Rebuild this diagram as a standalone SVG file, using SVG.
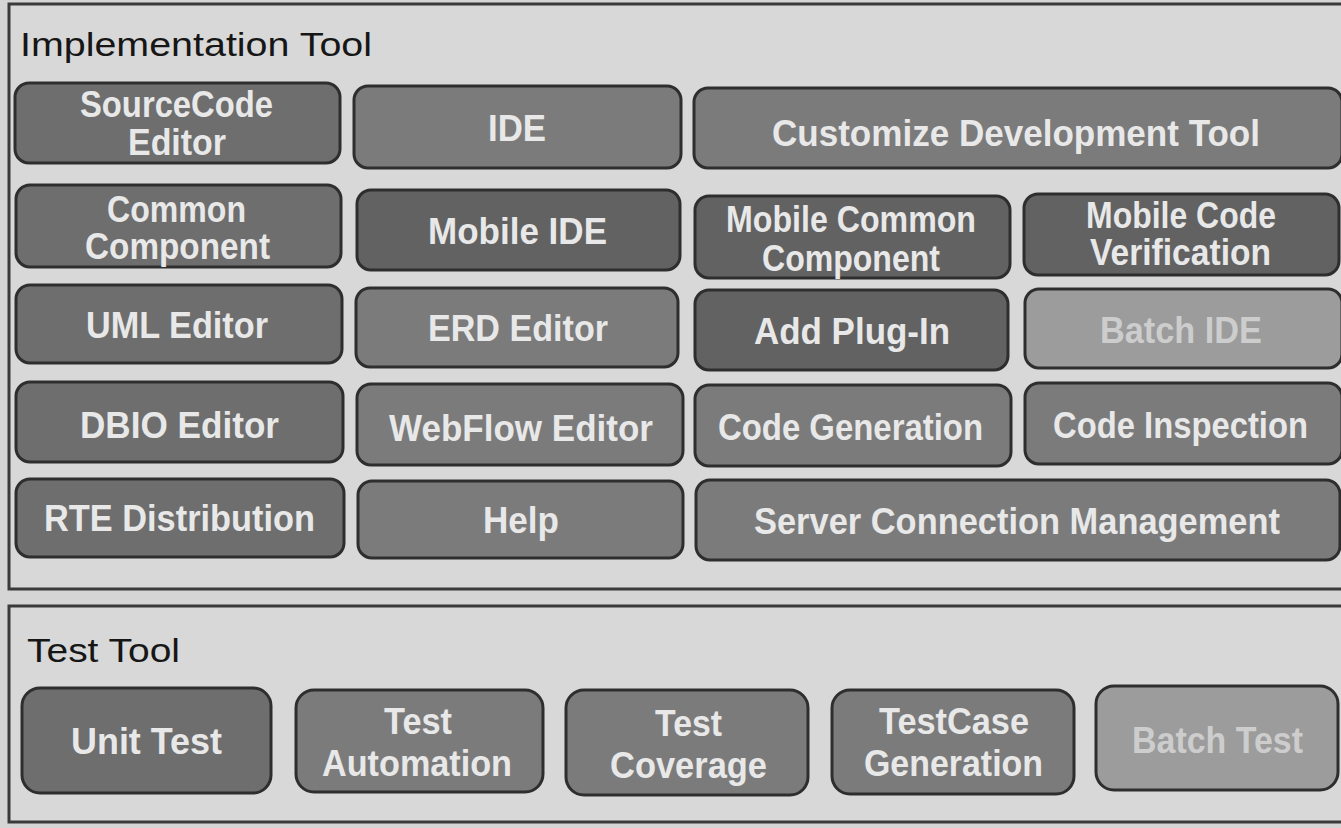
<svg xmlns="http://www.w3.org/2000/svg" width="1341" height="828" viewBox="0 0 1341 828">
<style>
.bg{fill:#d5d5d5}
.panel{fill:#d8d8d8;stroke:#3a3a3a;stroke-width:3}
.box{stroke:#2e2e2e;stroke-width:3}
.d{fill:#626262}
.m{fill:#6e6e6e}
.l{fill:#7b7b7b}
.x{fill:#9c9c9c}
.t{font-family:"Liberation Sans",Arial,sans-serif;font-weight:bold;font-size:36px;fill:#e8e8e8}
.tx{fill:#cdcdcd}
.h{font-family:"Liberation Sans",Arial,sans-serif;font-size:34px;fill:#161616}
</style>
<rect class="bg" x="0" y="0" width="1341" height="828"/>
<rect class="panel" x="9" y="4" width="1345" height="585"/>
<rect class="panel" x="9" y="606" width="1345" height="216"/>
<text class="h" x="20" y="56" textLength="352" lengthAdjust="spacingAndGlyphs">Implementation  Tool</text>
<text class="h" x="27" y="662" textLength="153" lengthAdjust="spacingAndGlyphs">Test Tool</text>

<g id="n-sourcecode"><rect class="box m" x="15" y="83" width="325" height="80" rx="14"/><text class="t" x="80" y="117" textLength="193" lengthAdjust="spacingAndGlyphs">SourceCode</text><text class="t" x="128" y="155" textLength="98" lengthAdjust="spacingAndGlyphs">Editor</text></g>
<g id="n-ide"><rect class="box l" x="354" y="86" width="327" height="82" rx="14"/><text class="t" x="488" y="141" textLength="58" lengthAdjust="spacingAndGlyphs">IDE</text></g>
<g id="n-customize"><rect class="box l" x="694" y="88" width="648" height="80" rx="14"/><text class="t" x="772" y="146" textLength="488" lengthAdjust="spacingAndGlyphs">Customize Development Tool</text></g>

<g id="n-common"><rect class="box m" x="16" y="185" width="325" height="82" rx="14"/><text class="t" x="107" y="222" textLength="139" lengthAdjust="spacingAndGlyphs">Common</text><text class="t" x="85" y="259" textLength="185" lengthAdjust="spacingAndGlyphs">Component</text></g>
<g id="n-mobileide"><rect class="box d" x="357" y="190" width="323" height="80" rx="14"/><text class="t" x="428" y="244" textLength="179" lengthAdjust="spacingAndGlyphs">Mobile IDE</text></g>
<g id="n-mobilecommon"><rect class="box d" x="695" y="196" width="315" height="82" rx="14"/><text class="t" x="726" y="232" textLength="250" lengthAdjust="spacingAndGlyphs">Mobile Common</text><text class="t" x="762" y="271" textLength="178" lengthAdjust="spacingAndGlyphs">Component</text></g>
<g id="n-mobilecode"><rect class="box d" x="1024" y="194" width="315" height="81" rx="14"/><text class="t" x="1086" y="228" textLength="190" lengthAdjust="spacingAndGlyphs">Mobile Code</text><text class="t" x="1090" y="265" textLength="181" lengthAdjust="spacingAndGlyphs">Verification</text></g>

<g id="n-uml"><rect class="box m" x="16" y="285" width="326" height="78" rx="14"/><text class="t" x="86" y="338" textLength="182" lengthAdjust="spacingAndGlyphs">UML Editor</text></g>
<g id="n-erd"><rect class="box l" x="356" y="288" width="322" height="79" rx="14"/><text class="t" x="428" y="341" textLength="180" lengthAdjust="spacingAndGlyphs">ERD Editor</text></g>
<g id="n-plugin"><rect class="box d" x="695" y="290" width="313" height="80" rx="14"/><text class="t" x="754" y="344" textLength="196" lengthAdjust="spacingAndGlyphs">Add Plug-In</text></g>
<g id="n-batchide"><rect class="box x" x="1025" y="289" width="317" height="79" rx="14"/><text class="t tx" x="1100" y="343" textLength="162" lengthAdjust="spacingAndGlyphs">Batch IDE</text></g>

<g id="n-dbio"><rect class="box m" x="16" y="382" width="327" height="80" rx="14"/><text class="t" x="80" y="438" textLength="199" lengthAdjust="spacingAndGlyphs">DBIO Editor</text></g>
<g id="n-webflow"><rect class="box l" x="357" y="384" width="326" height="81" rx="14"/><text class="t" x="389" y="441" textLength="264" lengthAdjust="spacingAndGlyphs">WebFlow Editor</text></g>
<g id="n-codegen"><rect class="box l" x="695" y="385" width="316" height="81" rx="14"/><text class="t" x="718" y="440" textLength="265" lengthAdjust="spacingAndGlyphs">Code Generation</text></g>
<g id="n-codeinsp"><rect class="box l" x="1025" y="383" width="317" height="81" rx="14"/><text class="t" x="1053" y="438" textLength="255" lengthAdjust="spacingAndGlyphs">Code Inspection</text></g>

<g id="n-rte"><rect class="box m" x="16" y="479" width="328" height="78" rx="14"/><text class="t" x="44" y="531" textLength="271" lengthAdjust="spacingAndGlyphs">RTE Distribution</text></g>
<g id="n-help"><rect class="box l" x="358" y="481" width="325" height="77" rx="14"/><text class="t" x="483" y="533" textLength="76" lengthAdjust="spacingAndGlyphs">Help</text></g>
<g id="n-server"><rect class="box l" x="696" y="480" width="644" height="80" rx="14"/><text class="t" x="754" y="534" textLength="526" lengthAdjust="spacingAndGlyphs">Server Connection  Management</text></g>

<g id="n-unittest"><rect class="box m" x="22" y="688" width="249" height="105" rx="18"/><text class="t" x="71" y="754" textLength="151" lengthAdjust="spacingAndGlyphs">Unit Test</text></g>
<g id="n-testauto"><rect class="box l" x="296" y="690" width="247" height="102" rx="18"/><text class="t" x="384" y="734" textLength="68" lengthAdjust="spacingAndGlyphs">Test</text><text class="t" x="322" y="776" textLength="190" lengthAdjust="spacingAndGlyphs">Automation</text></g>
<g id="n-testcov"><rect class="box l" x="566" y="690" width="242" height="105" rx="18"/><text class="t" x="655" y="736" textLength="67" lengthAdjust="spacingAndGlyphs">Test</text><text class="t" x="610" y="778" textLength="157" lengthAdjust="spacingAndGlyphs">Coverage</text></g>
<g id="n-testcase"><rect class="box l" x="832" y="690" width="242" height="104" rx="18"/><text class="t" x="879" y="734" textLength="150" lengthAdjust="spacingAndGlyphs">TestCase</text><text class="t" x="864" y="776" textLength="179" lengthAdjust="spacingAndGlyphs">Generation</text></g>
<g id="n-batchtest"><rect class="box x" x="1096" y="686" width="242" height="104" rx="18"/><text class="t tx" x="1132" y="753" textLength="171" lengthAdjust="spacingAndGlyphs">Batch Test</text></g>

<g id="connectors"></g>
</svg>
